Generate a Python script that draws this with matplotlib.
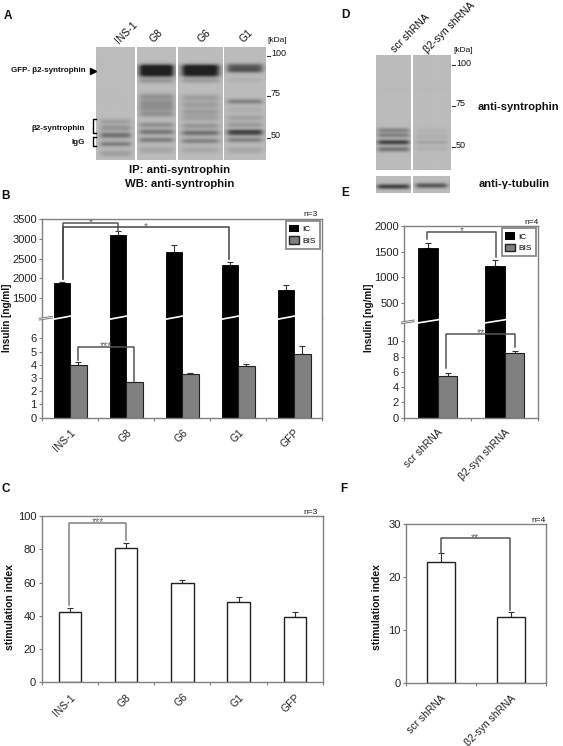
import matplotlib
matplotlib.use('Agg')
import matplotlib.pyplot as plt
import numpy as np
from matplotlib.patches import Patch

plt.rcParams['font.family'] = ['Liberation Sans', 'DejaVu Sans']

W = 563
H = 746

# bar data
cats_left = ['INS-1', 'G8', 'G6', 'G1', 'GFP']
ic_left = [1880, 3090, 2670, 2350, 1700]
ic_left_err = [20, 110, 185, 65, 130]
bis_left = [4.0, 2.7, 3.3, 3.9, 4.8]
bis_left_err = [0.2, 0.0, 0.12, 0.15, 0.65]
si_left = [42, 81, 60, 48, 39.5]
si_left_err = [2.5, 2.5, 1.3, 3.2, 2.8]

cats_right = ['scr shRNA', 'β2-syn shRNA']
ic_right = [1580, 1230]
ic_right_err = [100, 120]
bis_right = [5.5, 8.5]
bis_right_err = [0.35, 0.25]
si_right = [22.8, 12.5]
si_right_err = [1.7, 0.9]

# blot bands: (row in pixels, darkness 0-1, thickness)
ins1_bands = [(121.7, .22, 2), (128, .3, 2), (135.3, .55, 2.2), (144, .45, 1.9), (153.5, .22, 2.4)]
g8_bands = [(67, .9, 2), (71, 1.0, 2.4), (75, .85, 2), (81, .28, 1.8), (97, .3, 2.4), (103, .3, 2.4), (108, .3, 2.4),
            (114, .3, 2.4), (125, .32, 2), (132, .5, 2), (140, .45, 1.9), (150, .17, 2.4)]
g6_bands = [(67, .9, 2), (71, 1.0, 2.4), (75, .8, 2), (81, .22, 1.8), (98, .22, 2.4), (105, .22, 2.4), (112, .22, 2.4),
            (118, .2, 2.4), (126, .28, 2), (133, .55, 2), (141, .42, 1.9), (150, .15, 2.4)]
g1_bands = [(66.5, .6, 2), (70.5, .68, 2), (80, .08, 1.8), (101.7, .42, 1.9), (110, .1, 2.4), (118, .2, 2),
            (125, .25, 2), (131, .55, 1.4), (133.5, .7, 1.7), (140, .42, 1.9), (150, .16, 2.4)]
scr_bands = [(130, .4, 1.8), (135, .42, 1.8), (142, .9, 1.8), (149, .52, 1.9), (90, .02, 2)]
kd_bands = [(130, .06, 2.4), (136, .09, 2), (142, .16, 1.8), (148.5, .08, 1.9), (90, .02, 2)]
tub_scr_bands = [(187, .9, 1.8)]
tub_kd_bands = [(186, .75, 1.8)]

lanes_a = [(96.3, 135, 46.7, 160, ins1_bands, .78), (137, 176, 46.7, 160, g8_bands, .88),
           (178, 222.3, 46.7, 160, g6_bands, .82), (224.3, 265.7, 46.7, 160, g1_bands, .84)]
lanes_d = [(376, 411, 55, 170, scr_bands, .9), (413, 450.7, 55, 170, kd_bands, .84),
           (376, 411, 175.7, 193.3, tub_scr_bands, .92), (413, 450, 175.7, 193.3, tub_kd_bands, .84)]

fig = plt.figure(figsize=(W / 100, H / 100), dpi=100)


def px_axes(x0, y0, x1, y1, **kw):
    return fig.add_axes([x0 / W, 1 - y1 / H, (x1 - x0) / W, (y1 - y0) / H], **kw)


def draw_lane(x0, x1, y0, y1, bands, frac):
    rows = np.arange(y0, y1, 0.5)
    cols = np.linspace(-1, 1, int((x1 - x0) * 2))
    prof = np.zeros_like(rows)
    for r, d, s in bands:
        prof += d * np.exp(-((rows - r) / s) ** 2 / 2)
    win = 1 / (1 + (np.abs(cols) / frac) ** 10)
    img = 188 - 135 * np.clip(np.outer(prof, win), 0, 1.15)
    a = px_axes(x0, y0, x1, y1)
    a.imshow(img, cmap='gray', vmin=0, vmax=255, aspect='auto', interpolation='bilinear')
    a.axis('off')


for lane in lanes_a + lanes_d:
    draw_lane(*lane)


def style_axis(a, n, labels=None):
    for s in a.spines.values():
        s.set_color('#808080')
        s.set_linewidth(1.0)
    a.set_xlim(0, n)
    a.set_xticks(range(n + 1))
    a.set_xticklabels([])
    a.tick_params(axis='x', which='major', length=2.5, color='#808080')
    a.tick_params(axis='y', length=2.5, color='#808080', labelsize=8, pad=1.5, labelcolor='#222222')
    if labels is None:
        a.tick_params(axis='x', length=0)
    else:
        a.set_xticks(np.arange(n) + 0.5, minor=True)
        a.set_xticklabels(labels, minor=True, rotation=45, ha='right', rotation_mode='anchor',
                          fontsize=7.5, color='#222222')
        a.tick_params(axis='x', which='minor', length=0, pad=7)


def broken_panel(rect, y_break, cats, ic, ic_err, bis, bis_err, up_lim, up_ticks, lo_top, lo_ticks):
    x0, y0, x1, y1 = rect
    n = len(cats)
    up = px_axes(x0, y0, x1, y_break)
    lo = px_axes(x0, y_break, x1, y1)
    pos = np.arange(n) + 0.5
    bw = 0.29
    up.bar(pos - bw / 2, ic, bw, color='black', edgecolor='black', linewidth=.6, zorder=2)
    up.errorbar(pos - bw / 2, ic, yerr=[np.zeros(n), ic_err], fmt='none', ecolor='#333333',
                elinewidth=.8, capsize=2, capthick=.8, zorder=1)
    lo.bar(pos - bw / 2, ic, bw, color='black', edgecolor='black', linewidth=.6, zorder=2)
    lo.bar(pos + bw / 2, bis, bw, color='#808080', edgecolor='#222222', linewidth=.8, zorder=2)
    lo.errorbar(pos + bw / 2, bis, yerr=[np.zeros(n), bis_err], fmt='none', ecolor='#333333',
                elinewidth=.8, capsize=2, capthick=.8, zorder=1)
    up.set_ylim(*up_lim)
    up.set_yticks(up_ticks)
    lo.set_ylim(0, lo_top)
    lo.set_yticks(lo_ticks)
    style_axis(up, n)
    style_axis(lo, n, cats)
    up.spines['bottom'].set_visible(False)
    lo.spines['top'].set_visible(False)
    leg = up.legend(handles=[Patch(facecolor='black', label='IC'), Patch(facecolor='#808080', edgecolor='#222222', label='BIS')],
                    loc='upper right', bbox_to_anchor=((x1 - 2.5) / W, 1 - (y0 + 2) / H),
                    bbox_transform=fig.transFigure, fontsize=6, fancybox=False, framealpha=1,
                    edgecolor='#808080', handlelength=1.1, handleheight=1, handletextpad=.5,
                    borderpad=.45, labelspacing=.35, borderaxespad=0)
    leg.get_frame().set_linewidth(1.2)
    return up, lo


def white_panel(rect, cats, vals, errs, top, ticks):
    x0, y0, x1, y1 = rect
    a = px_axes(x0, y0, x1, y1)
    n = len(cats)
    pos = np.arange(n) + 0.5
    a.bar(pos, vals, 0.4, color='white', edgecolor='#222222', linewidth=1.0, zorder=2)
    a.errorbar(pos, vals, yerr=[np.zeros(n), errs], fmt='none', ecolor='#333333',
               elinewidth=.8, capsize=2.5, capthick=.8, zorder=1)
    a.set_ylim(0, top)
    a.set_yticks(ticks)
    style_axis(a, n, cats)
    return a


broken_panel((42.3, 219, 322.3, 417.7), 318, cats_left, ic_left, ic_left_err, bis_left, bis_left_err,
             (1000, 3500), [1500, 2000, 2500, 3000, 3500], 7.55, range(7))
broken_panel((404.3, 226.3, 538.3, 417.7), 321.7, cats_right, ic_right, ic_right_err, bis_right, bis_right_err,
             (133, 2000), [500, 1000, 1500, 2000], 12.56, range(0, 11, 2))
white_panel((41.7, 516, 323, 682.3), cats_left, si_left, si_left_err, 100, range(0, 101, 20))
white_panel((406, 524.3, 545.7, 683.3), cats_right, si_right, si_right_err, 30, [0, 10, 20, 30])

# overlay in pixel coordinates for the labels and significance brackets
ov = fig.add_axes([0, 0, 1, 1], zorder=10)
ov.set_xlim(0, W)
ov.set_ylim(H, 0)
ov.axis('off')
ov.patch.set_alpha(0)


def label(x, y, s, size=8, weight='normal', ha='center', rot=0, color='#111111'):
    ov.text(x, y, s, fontsize=size, fontweight=weight, ha=ha, va='center', rotation=rot,
            rotation_mode='anchor' if rot == 45 else None, color=color)


for x, y, s in [(8, 16, 'A'), (6, 196, 'B'), (6, 489, 'C'), (345, 15, 'D'), (345, 193, 'E'), (344, 489, 'F')]:
    label(x, y, s, size=8.5, weight='bold')

for x, y, s in [(126, 32, 'INS-1'), (156, 36, 'G8'), (204, 36, 'G6'), (246, 36, 'G1')]:
    label(x, y, s, size=7.5, rot=45)
label(277, 40, '[kDa]', size=6)
for y, s in [(54, '100'), (94, '75'), (136, '50')]:
    ov.plot([267, 269.5], [y + 2, y + 2], color='#333333', lw=.8)
    label(271, y, s, size=6.5, ha='left')

label(11, 71, 'GFP- β2-syntrophin', size=5.8, weight='bold', ha='left')
ov.plot([93], [71], marker='>', color='black', ms=4)
label(84.5, 128, 'β2-syntrophin', size=5.8, weight='bold', ha='right')
label(85, 142, 'IgG', size=5.8, weight='bold', ha='right')
for y0, y1 in [(119, 133), (137, 146)]:
    ov.plot([95.5, 92.5, 92.5, 95.5], [y0, y0, y1, y1], color='black', lw=1)

label(180, 170, 'IP: anti-syntrophin', size=8.2, weight='bold')
label(180, 184, 'WB: anti-syntrophin', size=8.2, weight='bold')

label(410.7, 33, 'scr shRNA', size=7.5, rot=45)
label(449, 28, 'β2-syn shRNA', size=7.5, rot=45)
label(462.7, 50, '[kDa]', size=6)
for y, s in [(63, '100'), (103.5, '75'), (145, '50')]:
    ov.plot([452, 455], [y + 2, y + 2], color='#333333', lw=.8)
    label(456, y, s, size=6.5, ha='left')
label(477.7, 107, 'anti-syntrophin', size=8, weight='bold', ha='left')
label(478.7, 184, 'anti-γ-tubulin', size=8, weight='bold', ha='left')

label(7, 318, 'Insulin [ng/ml]', size=7.2, weight='bold', rot=90)
label(369, 318, 'Insulin [ng/ml]', size=7.2, weight='bold', rot=90)
label(10, 607, 'stimulation index', size=7.5, weight='bold', rot=90)
label(377, 607, 'stimulation index', size=7.5, weight='bold', rot=90)

for x, y, s in [(318, 214.5, 'n=3'), (539, 222, 'n=4'), (318, 512, 'n=3'), (546, 520.5, 'n=4')]:
    label(x, y, s, size=6, ha='right')


def bracket(xa, xb, y, ya, yb, stars, color='#555555'):
    ov.plot([xa, xa, xb, xb], [ya, y, y, yb], color=color, lw=1.1)
    label((xa + xb) / 2, y - 0.5, stars, size=7.5, color='#666666')


bracket(62.7, 118.3, 223.3, 279, 231, '*')
bracket(62.7, 229.3, 227.3, 279, 259.3, '*', color='#444444')
bracket(78.3, 134.3, 346.7, 360, 381, '***')
bracket(427.3, 495.7, 231.7, 239.3, 257.3, '*')
bracket(446.3, 514.7, 334, 368, 347.3, '**')
bracket(69.3, 125.7, 522.7, 605, 540, '***', color='#808080')
bracket(440.7, 510, 538.3, 552.7, 610, '**')

# axis breaks: white slash through each black bar and a pair of ticks on the y axis
for x_ax, start, step, count, yb, bar_w in [(42.3, 70.3, 56, 5, 318, 16.3), (404.3, 437.8, 67, 2, 321.7, 19.5)]:
    for i in range(count):
        xc = start + i * step
        ov.fill([xc - bar_w - 1, xc + 1.5, xc + 1.5, xc - bar_w - 1],
                [yb + 2.2, yb - 1.3, yb - 3, yb + .5], color='white', lw=0)
    ov.fill([x_ax - 3, x_ax + 10, x_ax + 10, x_ax - 3], [yb + 2, yb, yb - 1.7, yb + .3], color='white', lw=0)
    ov.plot([x_ax - 3, x_ax + 10], [yb + 2, yb], color='#777777', lw=.7)
    ov.plot([x_ax - 3, x_ax + 10], [yb + .3, yb - 1.7], color='#777777', lw=.7)

fig.savefig('out.png', dpi=100)
